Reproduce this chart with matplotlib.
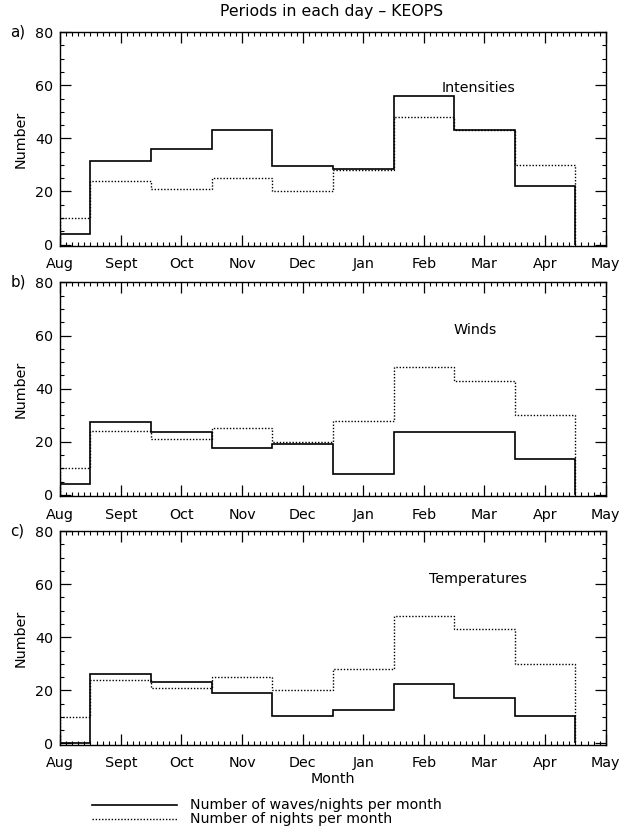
import numpy as np
import matplotlib
matplotlib.use("Agg")
import matplotlib.pyplot as plt
from matplotlib.ticker import MultipleLocator, FixedLocator

months = ["Aug", "Sept", "Oct", "Nov", "Dec", "Jan", "Feb", "Mar", "Apr", "May"]
bin_edges = [0, 0.5, 1.5, 2.5, 3.5, 4.5, 5.5, 6.5, 7.5, 8.5]

nights = [10, 24, 21, 25, 20, 28, 48, 43, 30]
intensities = [4, 31.5, 36, 43, 29.5, 28.5, 56, 43, 22]
winds = [4, 27.5, 23.5, 17.5, 19, 8, 23.5, 23.5, 13.5]
temperatures = [0.3, 26, 23, 19, 10.5, 12.5, 22.5, 17, 10.5]

panels = [
    ("a)", "Intensities", intensities, (6.9, 59)),
    ("b)", "Winds", winds, (6.85, 62)),
    ("c)", "Temperatures", temperatures, (6.9, 62)),
]

plt.rcParams['font.family'] = ['DejaVu Sans']
fig = plt.figure(figsize=(6.2, 8.26), dpi=100)

left, width, height = 0.097, 0.880, 0.259
bottoms = [0.702, 0.399, 0.098]

fs = 10.3
for (lab, name, vals, tpos), b in zip(panels, bottoms):
    ax = fig.add_axes([left, b, width, height])
    ax.stairs(vals, bin_edges, baseline=0, color='black', lw=1.2)
    ax.stairs(nights, bin_edges, baseline=0, color='black', lw=1.0,
              linestyle=(0, (1, 1.3)))
    ax.set_xlim(0, 9)
    ax.set_ylim(-0.6, 80)
    ax.xaxis.set_major_locator(FixedLocator(range(len(months))))
    ax.set_xticklabels(months, fontsize=fs)
    ax.xaxis.set_minor_locator(MultipleLocator(0.1))
    ax.yaxis.set_minor_locator(MultipleLocator(5))
    ax.set_yticks([0, 20, 40, 60, 80])
    ax.set_yticklabels(["0", "20", "40", "60", "80"], fontsize=fs)
    ax.tick_params(which='major', direction='in', length=8, width=0.9,
                   top=True, right=True, pad=5)
    ax.tick_params(which='minor', direction='in', length=3.0, width=0.8,
                   top=True, right=True)
    ax.tick_params(axis='x', which='major', pad=8)
    for s in ax.spines.values():
        s.set_linewidth(1.0)
    ax.set_ylabel("Number", fontsize=fs, labelpad=5)
    ax.text(tpos[0], tpos[1], name, ha='center', va='center', fontsize=fs)
    ax.text(-0.82, 80, lab, ha='left', va='center', fontsize=fs + 0.5,
            transform=ax.transData, clip_on=False)
    last_ax = ax

last_ax.set_xlabel("Month", fontsize=fs, labelpad=1)

fig.text(0.535, 0.986, "Periods in each day \u2013 KEOPS", ha='center',
         va='center', fontsize=fs + 1)

# legend
y1 = 1 - 805 / 826
y2 = 1 - 819 / 826
fig.add_artist(plt.Line2D([92 / 620, 177 / 620], [y1, y1], color='black', lw=1.2))
fig.add_artist(plt.Line2D([92 / 620, 177 / 620], [y2, y2], color='black', lw=1.0,
                          linestyle=(0, (1, 1.3))))
fig.text(190 / 620, y1, "Number of waves/nights per month", ha='left',
         va='center', fontsize=10.2)
fig.text(190 / 620, y2, "Number of nights per month", ha='left',
         va='center', fontsize=10.2)

fig.savefig("out.png", dpi=100)
